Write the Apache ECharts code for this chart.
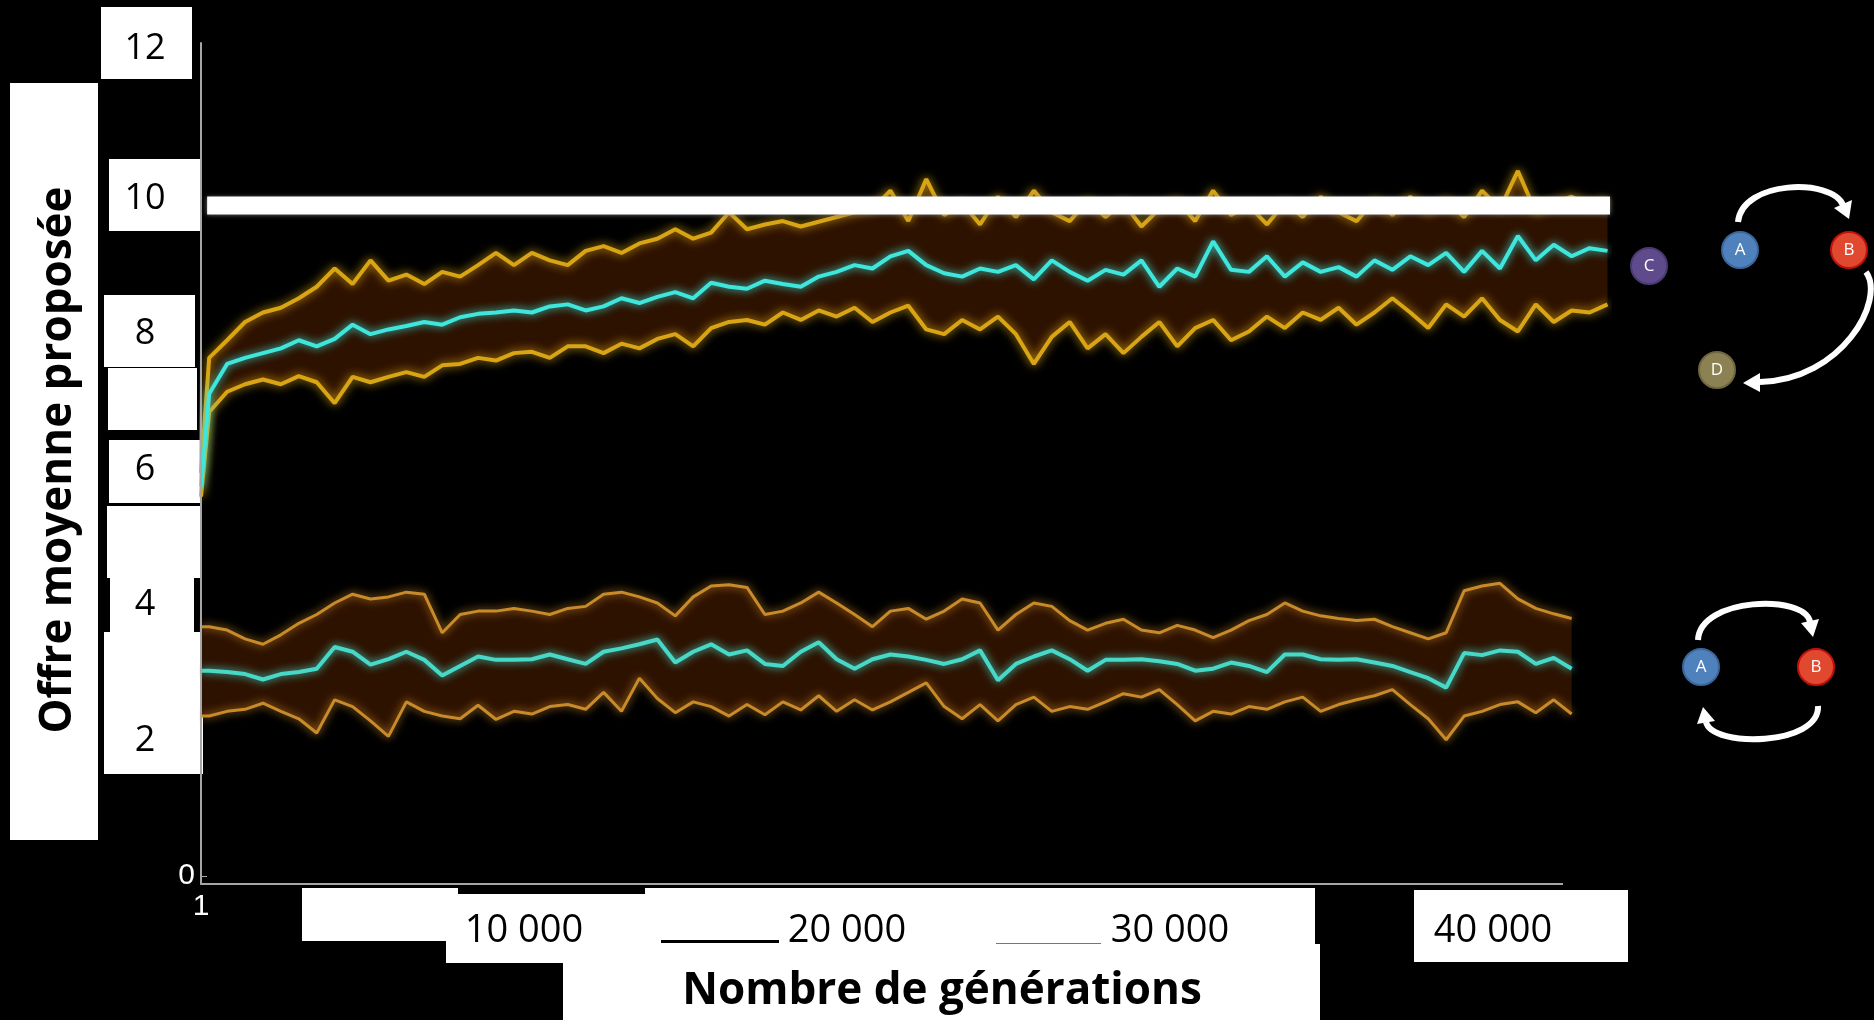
<!DOCTYPE html>
<html>
<head>
<meta charset="utf-8">
<script src="https://cdn.jsdelivr.net/npm/echarts@6.0.0/dist/echarts.min.js"></script>
<style>
  html, body { margin: 0; padding: 0; background: #000; }
  #chart { width: 1874px; height: 1020px; }
</style>
</head>
<body>
<div id="chart"></div>
<script>
// generations: first sample at 1, then every 555 generations from 253
const firstGen = 253;
const genStep = 555;

// A -> B -> D network (upper curves)
const upMean = [5.75,
  7.12, 7.56, 7.65, 7.72, 7.79, 7.91, 7.82, 7.93, 8.14, 8.00,
  8.07, 8.12, 8.18, 8.14, 8.25, 8.30, 8.32, 8.35, 8.32, 8.41,
  8.44, 8.35, 8.41, 8.53, 8.46, 8.55, 8.62, 8.53, 8.76, 8.70,
  8.67, 8.79, 8.74, 8.70, 8.85, 8.92, 9.02, 8.97, 9.15, 9.23,
  9.02, 8.90, 8.85, 8.97, 8.92, 9.02, 8.81, 9.09, 8.92, 8.79,
  8.95, 8.88, 9.09, 8.70, 8.97, 8.85, 9.37, 8.95, 8.92, 9.15,
  8.85, 9.06, 8.92, 8.99, 8.85, 9.09, 8.95, 9.15, 9.02, 9.20,
  8.92, 9.23, 8.97, 9.45, 9.09, 9.32, 9.15, 9.27, 9.23];
const upHigh = [5.95,
  7.65, 7.91, 8.18, 8.32, 8.39, 8.53, 8.70, 8.97, 8.74, 9.09,
  8.79, 8.88, 8.74, 8.92, 8.85, 9.02, 9.20, 9.02, 9.20, 9.09,
  9.02, 9.23, 9.30, 9.20, 9.34, 9.41, 9.55, 9.41, 9.50, 9.80,
  9.55, 9.62, 9.67, 9.59, 9.66, 9.73, 9.80, 9.85, 10.12, 9.67,
  10.29, 9.76, 9.94, 9.62, 10.03, 9.73, 10.12, 9.80, 9.67, 9.97,
  9.73, 9.94, 9.59, 9.85, 9.97, 9.67, 10.12, 9.76, 9.90, 9.62,
  9.94, 9.73, 10.03, 9.80, 9.67, 9.97, 9.76, 10.03, 9.80, 9.97,
  9.73, 10.12, 9.85, 10.41, 9.80, 9.94, 10.03, 9.90, 9.97];
const upLow = [5.60,
  6.85, 7.15, 7.26, 7.33, 7.26, 7.38, 7.29, 6.98, 7.37, 7.29,
  7.37, 7.44, 7.37, 7.54, 7.56, 7.65, 7.61, 7.72, 7.74, 7.65,
  7.82, 7.82, 7.72, 7.86, 7.79, 7.93, 8.00, 7.82, 8.09, 8.18,
  8.21, 8.14, 8.32, 8.21, 8.35, 8.26, 8.39, 8.18, 8.32, 8.42,
  8.07, 8.00, 8.21, 8.07, 8.26, 8.00, 7.56, 7.96, 8.18, 7.79,
  8.00, 7.72, 7.96, 8.18, 7.82, 8.09, 8.21, 7.91, 8.04, 8.26,
  8.09, 8.32, 8.21, 8.39, 8.14, 8.32, 8.53, 8.32, 8.09, 8.44,
  8.26, 8.53, 8.21, 8.04, 8.44, 8.18, 8.35, 8.32, 8.44];

// A <-> B network (lower curves)
const lowMean = [3.03,
  3.03, 3.01, 2.98, 2.90, 2.98, 3.01, 3.06, 3.38, 3.31, 3.12,
  3.20, 3.31, 3.19, 2.96, 3.10, 3.24, 3.19, 3.19, 3.20, 3.27,
  3.20, 3.13, 3.31, 3.36, 3.42, 3.49, 3.15, 3.31, 3.42, 3.27,
  3.33, 3.13, 3.10, 3.31, 3.45, 3.20, 3.06, 3.20, 3.27, 3.24,
  3.19, 3.13, 3.20, 3.33, 2.89, 3.13, 3.24, 3.33, 3.20, 3.03,
  3.19, 3.19, 3.20, 3.17, 3.13, 3.03, 3.06, 3.15, 3.10, 3.01,
  3.27, 3.27, 3.20, 3.19, 3.20, 3.15, 3.10, 3.01, 2.92, 2.78,
  3.29, 3.26, 3.33, 3.31, 3.13, 3.22, 3.06];
const lowHigh = [3.68,
  3.68, 3.63, 3.50, 3.42, 3.56, 3.73, 3.86, 4.03, 4.16, 4.09,
  4.12, 4.19, 4.16, 3.59, 3.86, 3.91, 3.91, 3.95, 3.91, 3.86,
  3.95, 3.98, 4.16, 4.19, 4.12, 4.03, 3.84, 4.12, 4.28, 4.30,
  4.26, 3.86, 3.91, 4.03, 4.19, 4.03, 3.86, 3.68, 3.91, 3.95,
  3.79, 3.91, 4.09, 4.03, 3.63, 3.86, 4.03, 3.98, 3.77, 3.63,
  3.73, 3.79, 3.63, 3.59, 3.70, 3.63, 3.52, 3.63, 3.77, 3.86,
  4.03, 3.91, 3.84, 3.80, 3.77, 3.79, 3.68, 3.59, 3.50, 3.59,
  4.21, 4.28, 4.32, 4.09, 3.95, 3.87, 3.80];
const lowLow = [2.36,
  2.36, 2.43, 2.46, 2.55, 2.43, 2.32, 2.11, 2.60, 2.50, 2.29,
  2.06, 2.57, 2.43, 2.36, 2.32, 2.52, 2.31, 2.43, 2.39, 2.50,
  2.53, 2.46, 2.71, 2.43, 2.92, 2.62, 2.41, 2.57, 2.50, 2.36,
  2.53, 2.38, 2.57, 2.45, 2.66, 2.43, 2.60, 2.45, 2.57, 2.71,
  2.85, 2.50, 2.32, 2.53, 2.29, 2.53, 2.64, 2.43, 2.50, 2.46,
  2.57, 2.69, 2.64, 2.75, 2.53, 2.29, 2.43, 2.39, 2.50, 2.46,
  2.57, 2.64, 2.43, 2.53, 2.60, 2.66, 2.75, 2.53, 2.32, 2.01,
  2.36, 2.43, 2.53, 2.57, 2.41, 2.60, 2.39];

// reference offer line
const refLine = [[190, 9.9], [43620, 9.9]];

const xTicks = [0, 10000, 20000, 30000, 40000];
const yTicks = [0, 2, 4, 6, 8, 10, 12];

const gens = [1];
for (let k = 0; k < upMean.length - 1; k++) gens.push(firstGen + genStep * k);

const pts = (vals) => vals.map((v, i) => [gens[i], v]);

var chartDom = document.getElementById('chart');
var myChart = echarts.init(chartDom);

const fill = '#2e1200';
const yellow = '#d9a514';
const orange = '#c98a2a';
const cyan = '#3fe6dc';

// shaded area between the high and low curves
function band(hi, lo) {
    return {
        type: 'custom', clip: false, silent: true, z: 1, data: [[0, 0]],
        renderItem: function (params, api) {
            const top = hi.map((v, i) => api.coord([gens[i], v]));
            const bottom = lo.map((v, i) => api.coord([gens[i], v])).reverse();
            return { type: 'polygon', shape: { points: top.concat(bottom) }, style: { fill: fill } };
        }
    };
}
function glow(vals, color, width, blur) {
    return { type: 'line', data: pts(vals), symbol: 'none', clip: false, silent: true, z: 3,
        lineStyle: { color: color, width: width, shadowBlur: blur, shadowColor: color } };
}

// white boxes and the little network diagrams
function box(x1, y1, x2, y2, color) {
    return { type: 'rect', z: 0, shape: { x: x1, y: y1, width: x2 - x1, height: y2 - y1 },
             style: { fill: color || '#fff' } };
}
function node(cx, cy, color, stroke, label) {
    return [
        { type: 'circle', z: 5, shape: { cx: cx, cy: cy, r: 18 }, style: { fill: color, stroke: stroke, lineWidth: 2 } },
        { type: 'text', z: 6, x: cx, y: cy, style: { text: label, fill: '#fff', font: '17px "Open Sans"',
          align: 'center', verticalAlign: 'middle' } }
    ];
}
function arrow(p0, c1, c2, p1, head) {
    return [
        { type: 'bezierCurve', z: 5, shape: { x1: p0[0], y1: p0[1], cpx1: c1[0], cpy1: c1[1],
          cpx2: c2[0], cpy2: c2[1], x2: p1[0], y2: p1[1] },
          style: { stroke: '#fff', lineWidth: 6, fill: null } },
        { type: 'polygon', z: 5, shape: { points: head }, style: { fill: '#fff' } }
    ];
}

const graphics = [
    box(10, 83, 98, 840),
    box(101, 7, 192, 79), box(109, 159, 200, 231), box(104, 295, 195, 367),
    box(108, 368, 197, 430), box(109, 440, 200, 503), box(107, 506, 201, 578),
    box(110, 578, 194, 632), box(104, 632, 203, 774),
    box(302, 888, 458, 941), box(446, 894, 645, 963), box(645, 888, 1315, 945),
    box(563, 944, 1320, 1020), box(1414, 890, 1628, 962),
    box(661, 940, 779, 943, '#000'), box(996, 943, 1101, 944, '#777'),
    // the axis line stops short of where the curves end
    { type: 'rect', zlevel: 1, shape: { x: 1563, y: 879, width: 52, height: 10 }, style: { fill: '#000' } }
].concat(
    arrow([1738, 222], [1742, 180], [1832, 178], [1843, 205], [[1849, 219], [1834, 208], [1852, 200]]),
    arrow([1866, 272], [1886, 300], [1842, 380], [1760, 382], [[1743, 383], [1760, 373], [1760, 392]]),
    arrow([1698, 640], [1700, 597], [1805, 594], [1810, 622], [[1813, 637], [1801, 623], [1819, 619]]),
    arrow([1818, 706], [1820, 746], [1712, 748], [1706, 722], [[1703, 707], [1715, 721], [1697, 724]]),
    node(1649, 266, '#5f4b8b', '#4a3a70', 'C'),
    node(1740, 250, '#4f81bd', '#3b6699', 'A'),
    node(1849, 250, '#e0492f', '#c0100a', 'B'),
    node(1717, 370, '#8b8152', '#6e6640', 'D'),
    node(1701, 667, '#4f81bd', '#3b6699', 'A'),
    node(1816, 667, '#e0492f', '#c0100a', 'B')
);

let option = {
    backgroundColor: '#000',
    animation: false,
    grid: { left: 201, right: 264, top: 43, bottom: 136, outerBoundsMode: 'none', containLabel: false },
    xAxis: {
        type: 'value', min: 0, max: 43620, z: 10,
        axisLine: { onZero: false, lineStyle: { color: '#a6a6a6', width: 2 } },
        axisTick: { show: false },
        splitLine: { show: false },
        axisLabel: {
            customValues: xTicks, margin: 8,
            formatter: (v) => v === 0 ? '{one|1}' : '{big|' + String(v / 1000) + ' 000}',
            rich: {
                one: { color: '#fff', fontSize: 30, lineHeight: 30, fontFamily: 'Liberation Sans' },
                big: { color: '#000', fontSize: 38, lineHeight: 78, fontFamily: 'Open Sans' }
            }
        },
        name: 'Nombre de générations', nameLocation: 'middle', nameGap: 82,
        nameTextStyle: { color: '#000', fontFamily: 'Open Sans', fontWeight: 'bold', fontSize: 44,
                         lineHeight: 50, padding: [0, 0, 0, 73] }
    },
    yAxis: {
        type: 'value', min: -0.12, max: 12.3, z: 10,
        axisLine: { lineStyle: { color: '#a6a6a6', width: 2 } },
        axisTick: { show: true, inside: true, length: 6, customValues: [0], lineStyle: { color: '#a6a6a6' } },
        splitLine: { show: false },
        axisLabel: {
            customValues: yTicks, margin: 6,
            formatter: (v) => v === 0 ? '{zero|0}' : (v === 12 ? '{top|12}' : '{num|' + v + '}'),
            rich: {
                zero: { color: '#fff', fontSize: 30, fontFamily: 'Liberation Sans' },
                num: { color: '#000', fontSize: 36, lineHeight: 36, fontFamily: 'Open Sans', width: 100, align: 'center' },
                top: { color: '#000', fontSize: 36, lineHeight: 36, fontFamily: 'Open Sans', width: 100, align: 'center',
                       padding: [0, 0, 30, 0] }
            }
        },
        name: 'Offre moyenne proposée', nameLocation: 'middle', nameRotate: 90, nameGap: 118,
        nameTextStyle: { color: '#000', fontFamily: 'Open Sans', fontWeight: 'bold', fontSize: 44,
                         lineHeight: 50, padding: [0, 0, 0, 7] }
    },
    graphic: graphics,
    series: [
        band(upHigh, upLow),
        band(lowHigh, lowLow),
        glow(upHigh, yellow, 4, 10), glow(upLow, yellow, 4, 10),
        glow(lowHigh, orange, 3, 8), glow(lowLow, orange, 3, 8),
        glow(upMean, cyan, 4, 8), glow(lowMean, '#48d8c8', 4, 8),
        { type: 'line', data: refLine, symbol: 'none', clip: false, silent: true, z: 6,
          lineStyle: { color: '#fff', width: 18, shadowBlur: 5, shadowColor: '#777' } }
    ]
};
myChart.setOption(option);
</script>
</body>
</html>
